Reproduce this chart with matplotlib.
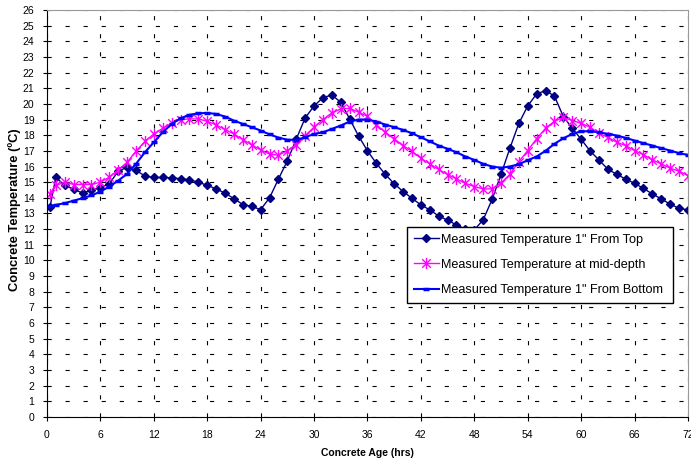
import matplotlib
matplotlib.use("Agg")
import matplotlib.pyplot as plt
from matplotlib.path import Path

# Datos (temperatura en C, cada hora)
hours = [0.33, 1, 2, 3, 4, 5, 6, 7, 8, 9, 10, 11, 12, 13, 14, 15, 16, 17, 18,
         19, 20, 21, 22, 23, 24, 25, 26, 27, 28, 29, 30, 31, 32, 33, 34, 35, 36,
         37, 38, 39, 40, 41, 42, 43, 44, 45, 46, 47, 48, 49, 50, 51, 52, 53, 54,
         55, 56, 57, 58, 59, 60, 61, 62, 63, 64, 65, 66, 67, 68, 69, 70, 71, 72]

temp_top = [13.4, 15.3, 14.8, 14.55, 14.3, 14.5, 14.65, 14.9, 15.7, 15.95, 15.75,
            15.4, 15.3, 15.3, 15.28, 15.22, 15.15, 15.0, 14.8, 14.57, 14.3, 13.95,
            13.57, 13.45, 13.25, 14.0, 15.2, 16.37, 17.75, 19.1, 19.87, 20.4, 20.57,
            20.1, 19.04, 17.95, 17.0, 16.2, 15.5, 14.9, 14.4, 13.97, 13.55, 13.23,
            12.84, 12.57, 12.27, 12.0, 11.95, 12.6, 13.9, 15.5, 17.17, 18.75, 19.87,
            20.64, 20.85, 20.5, 19.19, 18.45, 17.74, 17.0, 16.42, 15.83, 15.5, 15.2,
            14.93, 14.6, 14.25, 13.93, 13.6, 13.33, 13.23]

temp_mid = [14.26, 14.79, 15.0, 14.85, 14.85, 14.85, 15.0, 15.32, 15.79, 16.27,
            16.98, 17.6, 18.08, 18.44, 18.76, 19.0, 19.04, 19.04, 18.89, 18.66,
            18.36, 18.08, 17.72, 17.38, 17.06, 16.8, 16.72, 17.02, 17.4, 17.98,
            18.51, 19.0, 19.42, 19.68, 19.72, 19.47, 19.21, 18.66, 18.19, 17.77,
            17.34, 16.96, 16.53, 16.17, 15.81, 15.49, 15.21, 14.93, 14.72, 14.57,
            14.57, 14.95, 15.5, 16.3, 17.02, 17.77, 18.44, 18.89, 19.15, 18.93,
            18.76, 18.51, 18.12, 17.87, 17.55, 17.34, 17.02, 16.76, 16.42, 16.17,
            15.89, 15.7, 15.42]

temp_bottom = [13.45, 13.55, 13.66, 13.82, 13.98, 14.15, 14.4, 14.72, 15.1, 15.53,
               16.17, 16.91, 17.55, 18.19, 18.72, 19.08, 19.3, 19.4, 19.42, 19.36,
               19.19, 18.93, 18.72, 18.51, 18.3, 18.05, 17.85, 17.71, 17.7, 17.87,
               18.08, 18.19, 18.4, 18.62, 18.87, 19.0, 19.0, 18.87, 18.68, 18.51,
               18.34, 18.12, 17.87, 17.6, 17.34, 17.13, 16.91, 16.64, 16.42, 16.17,
               16.0, 15.92, 16.0, 16.15, 16.4, 16.64, 17.0, 17.45, 17.8, 18.08,
               18.25, 18.25, 18.19, 18.08, 17.98, 17.83, 17.66, 17.49, 17.34, 17.17,
               17.02, 16.85, 16.74]

x_ticks = [0, 6, 12, 18, 24, 30, 36, 42, 48, 54, 60, 66, 72]
y_ticks = list(range(0, 27))

plt.rcParams['font.family'] = ['Liberation Sans', 'DejaVu Sans']
plt.rcParams['lines.scale_dashes'] = False

# marcador tipo asterisco (x + linea vertical) como en Excel
star = Path([(-1, -1), (1, 1), (-1, 1), (1, -1), (0, -1.3), (0, 1.3)],
            [Path.MOVETO, Path.LINETO, Path.MOVETO, Path.LINETO, Path.MOVETO, Path.LINETO])

fig = plt.figure(figsize=(6.91, 4.61), dpi=100)
ax = fig.add_axes([0.068, 0.0954, 0.9276, 0.883])

ax.plot(hours, temp_top, color='#000080', lw=1.0, marker='D', ms=4,
        label='Measured Temperature 1" From Top')
ax.plot(hours, temp_mid, color='#FF00FF', lw=1.0, marker=star, ms=8, mew=1.0,
        mfc='none', label='Measured Temperature at mid-depth')
ax.plot(hours, temp_bottom, color='#0000FF', lw=1.5, marker='_', ms=5, mew=2.5,
        label='Measured Temperature 1" From Bottom')

ax.set_xlim(0, 72)
ax.set_ylim(0, 26)
ax.set_xticks(x_ticks)
ax.set_yticks(y_ticks)
ax.tick_params(axis='both', direction='out', length=3, width=0.8, labelsize=7.5, pad=6)

ax.grid(True, color='black', linestyle=(0, (3, 10)), linewidth=0.8)
ax.set_axisbelow(True)

for s in ['top', 'right']:
    ax.spines[s].set_color('#999999')
for s in ['left', 'bottom']:
    ax.spines[s].set_color('black')

ax.set_xlabel('Concrete Age (hrs)', fontsize=7.5, fontweight='bold',
              family=['Liberation Sans Narrow', 'Liberation Sans'], labelpad=6)
ax.set_ylabel('Concrete Temperature (ºC)', fontsize=9.3, fontweight='bold')
ax.yaxis.set_label_coords(-0.0406, 0.509)

leg = ax.legend(loc='upper left', bbox_to_anchor=(0.5616, 0.4668, 0.415, 0),
                mode='expand', fontsize=9.1, frameon=True, fancybox=False,
                edgecolor='black', framealpha=1, borderpad=0.53, labelspacing=1.04,
                handlelength=2.0, handletextpad=0.2, borderaxespad=0)
leg.get_frame().set_linewidth(1.0)

fig.savefig('out.png', dpi=100)
